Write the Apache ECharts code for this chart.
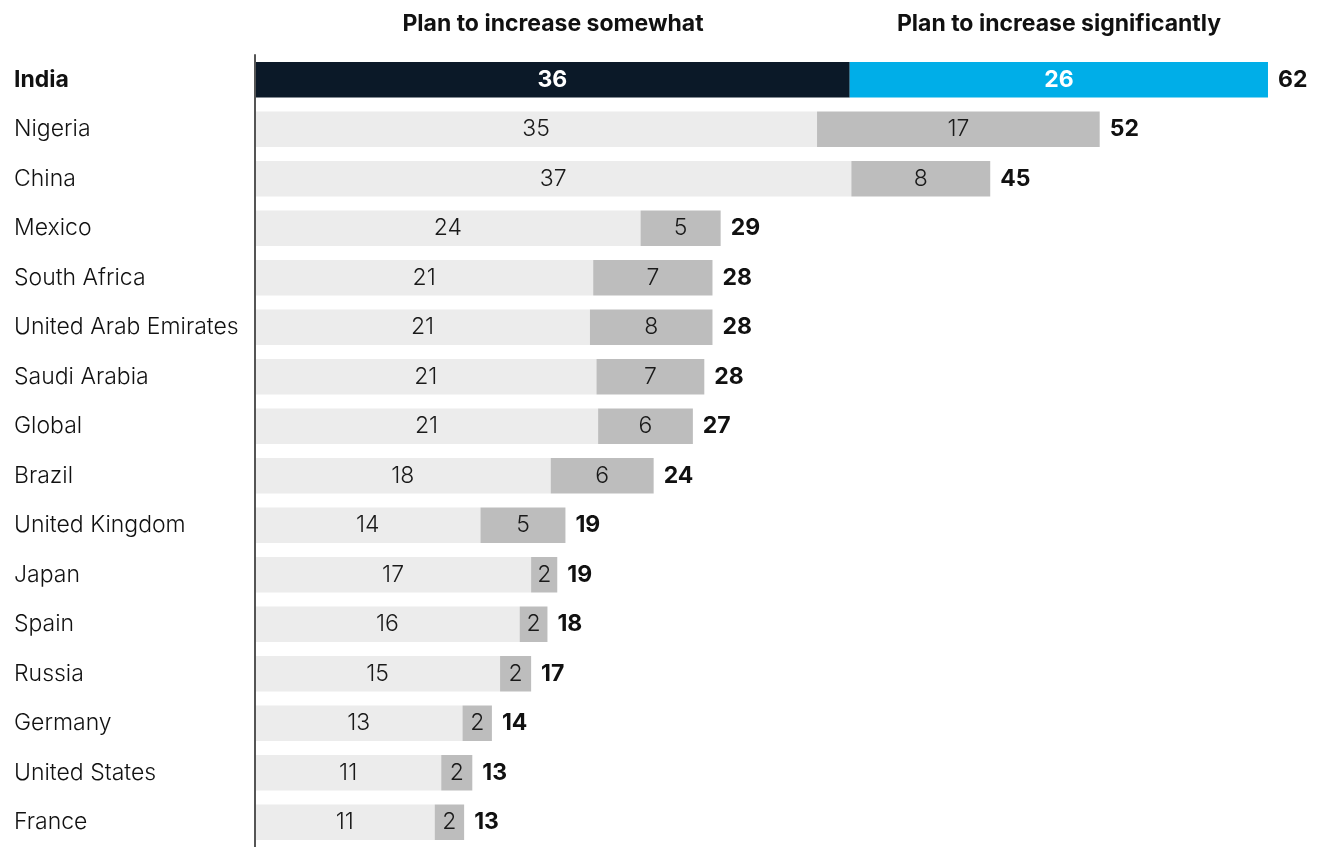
<!DOCTYPE html>
<html>
<head>
<meta charset="utf-8">
<script src="https://cdn.jsdelivr.net/npm/echarts@6/dist/echarts.min.js"></script>
<style>
  html, body { margin: 0; padding: 0; background: #fff; }
  #chart { width: 1322px; height: 847px; }
</style>
</head>
<body>
<div id="chart"></div>
<script>
var countries = ['India', 'Nigeria', 'China', 'Mexico', 'South Africa', 'United Arab Emirates',
  'Saudi Arabia', 'Global', 'Brazil', 'United Kingdom', 'Japan', 'Spain', 'Russia',
  'Germany', 'United States', 'France'];

// bar lengths (unrounded estimates)
var somewhat = [36.4, 34.4, 36.5, 23.6, 20.7, 20.5, 20.9, 21.0, 18.1, 13.8, 16.9, 16.2, 15.0, 12.7, 11.4, 11.0];
var significantly = [25.6, 17.3, 8.5, 4.9, 7.3, 7.5, 6.6, 5.8, 6.3, 5.2, 1.6, 1.7, 1.9, 1.8, 1.9, 1.8];

// printed labels
var somewhatLabels = [36, 35, 37, 24, 21, 21, 21, 21, 18, 14, 17, 16, 15, 13, 11, 11];
var significantlyLabels = [26, 17, 8, 5, 7, 8, 7, 6, 6, 5, 2, 2, 2, 2, 2, 2];
var totals = [62, 52, 45, 29, 28, 28, 28, 27, 24, 19, 19, 18, 17, 14, 13, 13];

var FONT = 'Inter, Helvetica, Arial, sans-serif';
var highlight = 'India';

function barData(vals, labels, hiColor, color) {
  return vals.map(function (v, i) {
    var hi = countries[i] === highlight;
    return {
      value: v,
      itemStyle: { color: hi ? hiColor : color },
      label: {
        formatter: String(labels[i]),
        color: hi ? '#ffffff' : '#1a1a1a',
        fontWeight: hi ? 'bold' : 300
      }
    };
  });
}

var chart = echarts.init(document.getElementById('chart'));

chart.setOption({
  animation: false,
  grid: { left: 255, top: 55, width: 1062, height: 800 },
  graphic: [
    { type: 'text', x: 553, y: 24, style: { text: 'Plan to increase somewhat', font: 'bold 23px ' + FONT, fill: '#111', align: 'center', verticalAlign: 'middle' } },
    { type: 'text', x: 1059, y: 24, style: { text: 'Plan to increase significantly', font: 'bold 23px ' + FONT, fill: '#111', align: 'center', verticalAlign: 'middle' } }
  ],
  xAxis: {
    type: 'value', min: 0, max: 65,
    show: false
  },
  yAxis: {
    type: 'category', data: countries, inverse: true, z: 5,
    axisLine: { show: true, lineStyle: { color: '#555', width: 2 } },
    axisTick: { show: false },
    axisLabel: {
      align: 'left', margin: 241,
      fontFamily: FONT, fontSize: 23, fontWeight: 300, color: '#111',
      formatter: function (v) { return v === highlight ? '{b|' + v + '}' : v; },
      rich: { b: { fontFamily: FONT, fontSize: 23, fontWeight: 'bold', color: '#111' } }
    }
  },
  series: [
    {
      type: 'bar', stack: 'plan', barCategoryGap: '28%',
      data: barData(somewhat, somewhatLabels, '#0b1928', '#ececec'),
      label: { show: true, position: 'inside', fontFamily: FONT, fontSize: 23 }
    },
    {
      type: 'bar', stack: 'plan',
      data: barData(significantly, significantlyLabels, '#00aee8', '#bdbdbd'),
      label: { show: true, position: 'inside', fontFamily: FONT, fontSize: 23 }
    },
    {
      type: 'scatter', symbolSize: 0,
      itemStyle: { opacity: 1 },
      data: somewhat.map(function (v, i) { return [v + significantly[i], countries[i]]; }),
      label: {
        show: true, position: 'right', distance: 10,
        fontFamily: FONT, fontSize: 23, fontWeight: 'bold', color: '#111',
        formatter: function (p) { return String(totals[p.dataIndex]); }
      }
    }
  ]
});
</script>
</body>
</html>
